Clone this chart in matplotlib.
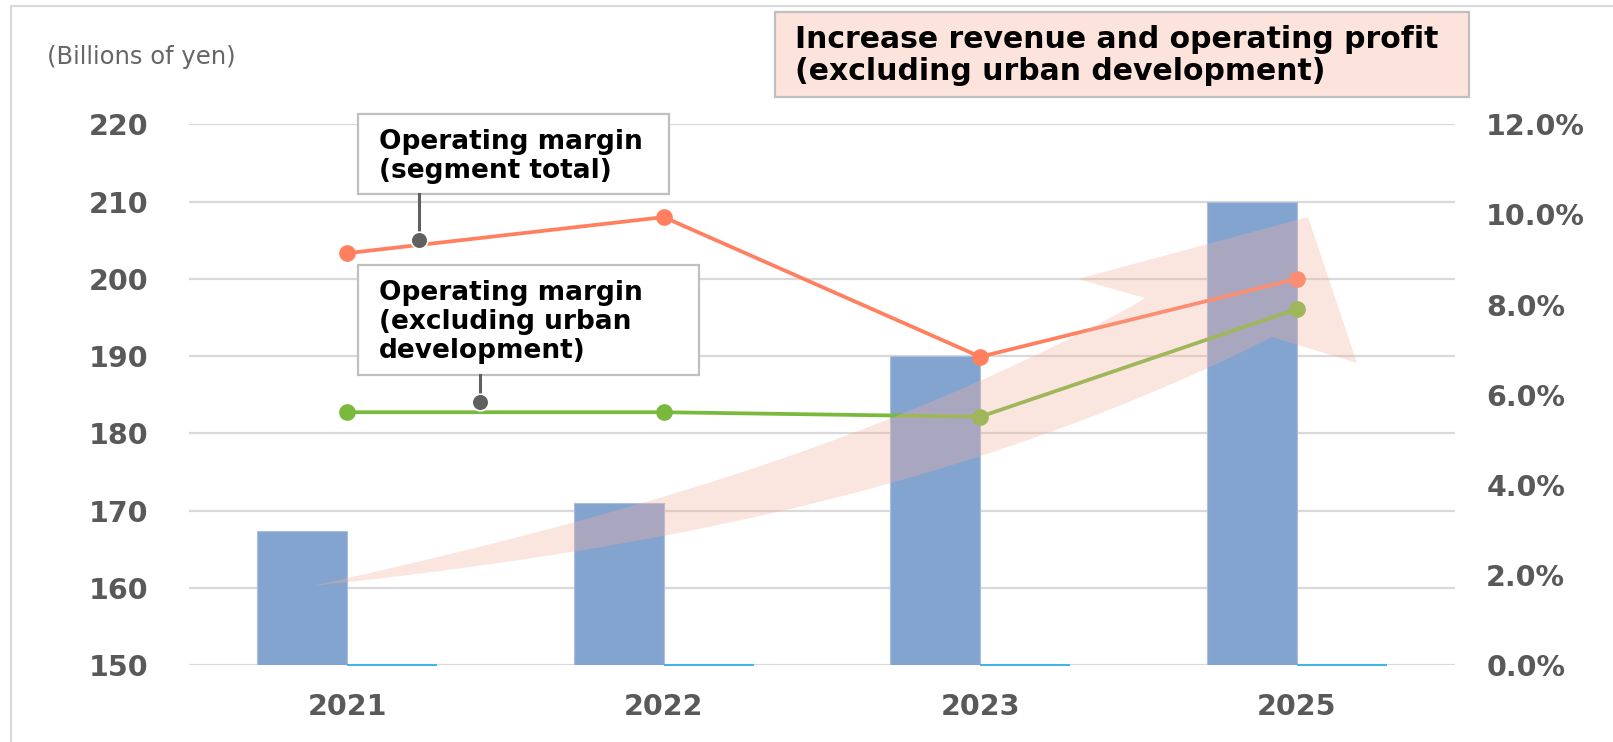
import numpy as np
import matplotlib
matplotlib.use("Agg")
import matplotlib.pyplot as plt
from matplotlib.patches import Rectangle, Polygon
from matplotlib.lines import Line2D
from matplotlib.ticker import FuncFormatter

# ---------------- data ----------------
categories = ["2021", "2022", "2023", "2025"]
revenue = [167.3, 171.0, 190.0, 210.0]          # billions of yen (bars, left axis)
second_series = [0, 0, 0, 0]                   # series sitting at the axis floor
margin_total = [9.14, 9.94, 6.84, 8.57]        # % (right axis)
margin_ex_urban = [5.61, 5.61, 5.51, 7.90]     # % (right axis)
left_ticks = [150, 160, 170, 180, 190, 200, 210, 220]
right_ticks = [0, 2, 4, 6, 8, 10, 12]

W, H = 1613, 742
fig = plt.figure(figsize=(W / 100, H / 100), dpi=100)
fig.patch.set_facecolor("white")

def fx(x):
    return x / W

def fy(y):
    return 1 - y / H

ax = fig.add_axes([fx(189), fy(665), 1266 / W, (665 - 124.3) / H])
ax2 = ax.twinx()

x = np.arange(len(categories))
w = 0.285
ax.bar(x - w / 2, revenue, w, color="#84A4D0", edgecolor="#A9BFE0", lw=0.8, zorder=2)
ax.bar(x + w / 2, second_series, w, bottom=150, color="none",
       edgecolor="#3DB5E6", lw=1.4, zorder=3, clip_on=False)

ax.set_xlim(-0.5, len(categories) - 0.5)
ax.set_ylim(left_ticks[0], left_ticks[-1])
ax.set_yticks(left_ticks, [str(t) for t in left_ticks], fontweight="bold")
ax.set_xticks(x, categories, fontweight="bold")
ax.yaxis.grid(True, color="#D9D9D9", lw=1.6)
ax.set_axisbelow(True)
ax.tick_params(axis="y", length=0, pad=29, labelsize=20.5, labelcolor="#595959")
ax.tick_params(axis="x", length=0, pad=20, labelsize=20.5, labelcolor="#595959")

ax2.plot(x, margin_total, color="#FF7F5E", lw=2.7, marker="o", ms=11, zorder=3)
ax2.plot(x, margin_ex_urban, color="#79B93C", lw=2.7, marker="o", ms=11, zorder=3)
ax2.set_ylim(right_ticks[0], right_ticks[-1])
ax2.set_yticks(right_ticks)
ax2.yaxis.set_major_formatter(FuncFormatter(lambda v, p: f"{v:.1f}%"))
for lbl in ax2.get_yticklabels():
    lbl.set_fontweight("bold")
ax2.tick_params(axis="y", length=0, pad=22.5, labelsize=20.5, labelcolor="#595959")

for a in (ax, ax2):
    for s in a.spines.values():
        s.set_visible(False)

# ---------------- decorative growth arrow (figure pixels) ----------------
ux = [312, 573, 800, 890, 1080, 1145]
uy = [586, 523, 452, 418, 335, 298]
lx = [312, 573, 800, 890, 1080, 1272]
ly = [586, 552, 507, 482, 422, 337]
cu = np.polyfit(ux, uy, 3)
cl = np.polyfit(lx, ly, 3)
xu = np.linspace(ux[0], ux[-1], 60)
xl = np.linspace(lx[0], lx[-1], 60)
yu = np.polyval(cu, xu); yu[0], yu[-1] = uy[0], uy[-1]
yl = np.polyval(cl, xl); yl[0], yl[-1] = ly[0], ly[-1]
head = [(1078, 279), (1308, 217), (1357, 363)]
pts = list(zip(xu, yu)) + head + list(zip(xl[::-1], yl[::-1]))
pts = [(fx(a), fy(b)) for a, b in pts]
fig.add_artist(Polygon(pts, closed=True, transform=fig.transFigure,
                       fc="#F5B09D", ec="none", alpha=0.32, zorder=5))

# ---------------- frame ----------------
fig.add_artist(Line2D([fx(11), fx(W)], [fy(6), fy(6)], transform=fig.transFigure,
                      color="#D9D9D9", lw=1.5, zorder=1))
fig.add_artist(Line2D([fx(11), fx(11)], [fy(6), fy(H)], transform=fig.transFigure,
                      color="#D9D9D9", lw=1.5, zorder=1))

# ---------------- boxes and callouts ----------------
def box(x0, y0, x1, y1, fc):
    fig.add_artist(Rectangle((fx(x0), fy(y1)), (x1 - x0) / W, (y1 - y0) / H,
                             transform=fig.transFigure, fc=fc, ec="#BFBFBF",
                             lw=1.6, zorder=6))

def leader(xp, y0, y1):
    fig.add_artist(Line2D([fx(xp), fx(xp)], [fy(y0), fy(y1)], transform=fig.transFigure,
                          color="#606060", lw=2.2, zorder=6))
    fig.add_artist(Line2D([fx(xp)], [fy(y1)], transform=fig.transFigure, marker="o",
                          ms=12, color="#606060", mec="white", mew=1.2, zorder=7))

# multi-line texts are anchored at the baseline of their last line
box(358, 114, 669, 194, "white")
leader(419, 194, 239.5)
fig.text(fx(379), fy(178.5), "Operating margin\n(segment total)", fontsize=19,
         fontweight="bold", color="black", ha="left", va="baseline",
         linespacing=1.18, zorder=8)

box(358, 265, 699, 375, "white")
leader(480, 375, 401.5)
fig.text(fx(379), fy(358.3), "Operating margin\n(excluding urban\ndevelopment)",
         fontsize=19, fontweight="bold", color="black", ha="left", va="baseline",
         linespacing=1.16, zorder=8)

box(775, 12, 1469, 97, "#FCE4DC")
fig.text(fx(795), fy(80.3), "Increase revenue and operating profit\n(excluding urban development)",
         fontsize=21.5, fontweight="bold", color="black", ha="left", va="baseline",
         linespacing=1.15, zorder=8)

fig.text(fx(47), fy(64), "(Billions of yen)", fontsize=17.5, color="#666666",
         ha="left", va="baseline")

fig.savefig("out.png", dpi=100)
